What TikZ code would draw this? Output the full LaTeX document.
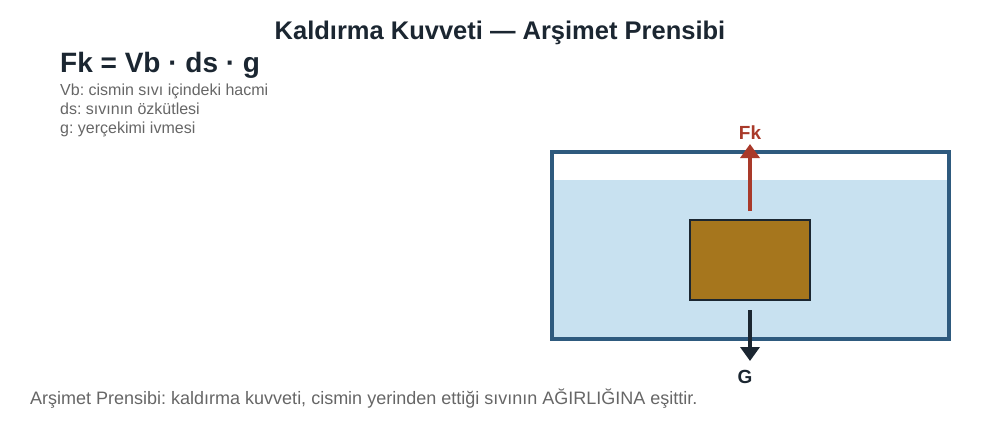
\documentclass[tikz,border=0pt]{standalone}
\usepackage{fontspec}
\setmainfont{Liberation Sans}
\usetikzlibrary{arrows.meta}
\usetikzlibrary{positioning}
\definecolor{ink}{HTML}{1B2631}
\definecolor{note}{HTML}{666666}
\definecolor{tankline}{HTML}{2E5A7E}
\definecolor{water}{HTML}{C8E1F0}
\definecolor{wood}{HTML}{A6761D}
\definecolor{lift}{HTML}{A93A2A}
\frenchspacing
\tikzset{>=latex}
\tikzset{
    heading/.style = {font=\fontsize{25.5}{30}\selectfont\bfseries, text=ink, anchor=base, inner sep=0pt},
    formula/.style = {font=\fontsize{28}{33}\selectfont\bfseries, text=ink, anchor=base west, inner sep=0pt},
    legend/.style = {font=\fontsize{16}{19}\selectfont, text=note, anchor=base west, inner sep=0pt},
    caption/.style = {font=\fontsize{18}{22}\selectfont, text=note, anchor=base west, inner sep=0pt},
    force/.style = {line width=4.3pt, -{Triangle[width=19pt,length=14pt]}},
    forcelabel/.style = {font=\fontsize{19}{22}\selectfont\bfseries, inner sep=0pt, anchor=base},
}
\begin{document}
\begin{tikzpicture}[x=1pt,y=-1pt]
    \useasboundingbox (0,0) rectangle (1000,420);
    % tank and water
    \fill[water] (552,180) rectangle (949,338);
    \draw[tankline, line width=3.3pt] (552,152) rectangle (949,339);
    \node(body)[draw=ink, line width=2pt, fill=wood, minimum width=120pt, minimum height=80pt, inner sep=0pt] at (750,260) {};
    % forces
    \coordinate (fkstart) at (750,211);
    \coordinate (fkend) at (750,144);
    \coordinate (gstart) at (750,310);
    \coordinate (gend) at (750,361);
    \draw[force, lift] (fkstart) -- (fkend);
    \draw[force, ink] (gstart) -- (gend);
    \node(fk)[forcelabel, text=lift] at (750,139) {Fk};
    \node(g)[forcelabel, text=ink] at (745,383) {G};
    % texts
    \node(title)[heading] at (500,40) {Kaldırma Kuvveti — Arşimet Prensibi};
    \node(eq)[formula] at (60,72) {Fk = Vb · ds · g};
    \node(vb)[legend] at (60,95.5) {Vb: cismin sıvı içindeki hacmi};
    \node(ds)[legend] at (60,114.5) {ds: sıvının özkütlesi};
    \node(gv)[legend] at (60,133.5) {g: yerçekimi ivmesi};
    \node(note)[caption] at (30,404.5) {Arşimet Prensibi: kaldırma kuvveti, cismin yerinden ettiği sıvının AĞIRLIĞINA eşittir.};
\end{tikzpicture}
\end{document}
